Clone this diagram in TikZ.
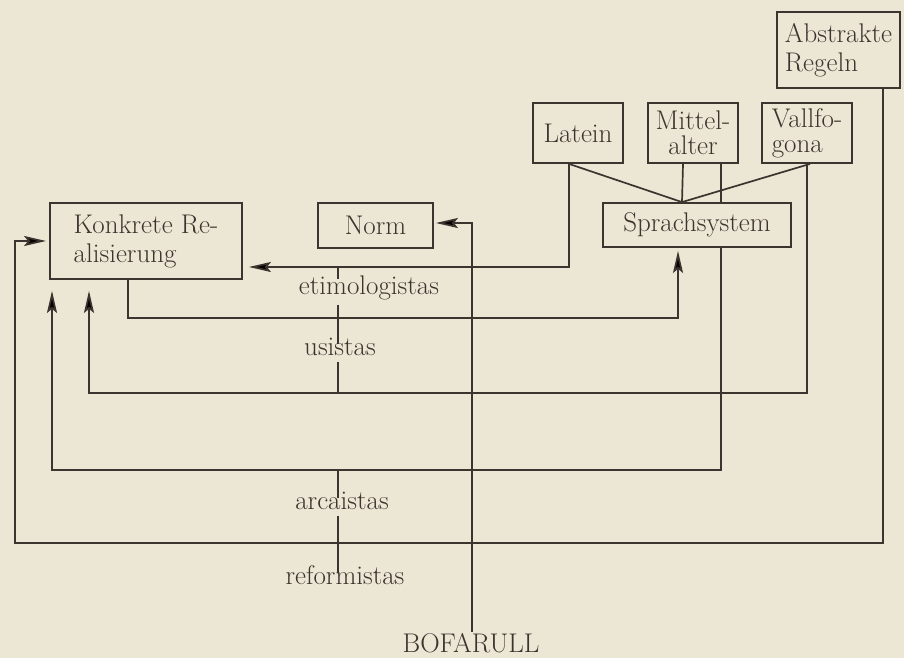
\documentclass[tikz,border=0pt]{standalone}
\usepackage{anyfontsize}
\usepackage{tikz}
\usetikzlibrary{arrows.meta,backgrounds}

\definecolor{paper}{RGB}{236,230,213}
\definecolor{ink}{RGB}{60,52,46}

\begin{document}
\begin{tikzpicture}[x=1pt, y=-1pt, ink, font=\fontsize{27}{29}\selectfont,
	box/.style={draw=ink, line width=1.8pt, fill=paper, inner sep=0pt},
	tight/.style={font=\fontsize{27}{25}\selectfont},
	lbl/.style={inner xsep=2pt, inner ysep=4pt, text height=0.7em, text depth=0.2em},
	line/.style={draw=ink, line width=1.7pt},
	arr/.style={line, -{Stealth[length=22pt, width=10pt, inset=4pt]}}]

	\useasboundingbox (0,0) rectangle (904,658);


	\node[box, minimum width=123pt, minimum height=76pt, align=left] (abstr) at (838.5,50) {Abstrakte\\Regeln};
	\node[box, minimum width=90pt, minimum height=60pt] (latein) at (578,133) {Latein};
	\node[box, tight, minimum width=90pt, minimum height=60pt, align=center] (mittel) at (693,133) {Mittel-\\alter};
	\node[box, tight, minimum width=90pt, minimum height=60pt, align=left] (vallfo) at (807,133) {Vallfo-\\gona};
	\node[box, minimum width=188pt, minimum height=44pt] (sprach) at (697,225) {Sprachsystem};
	\node[box, minimum width=115pt, minimum height=45pt] (norm) at (375.5,225.5) {Norm};
	\node[box, minimum width=192pt, minimum height=76pt, align=left] (konkret) at (146,241) {Konkrete Re-\\alisierung};

	\node[lbl, inner ysep=8pt] (etim) at (369,292) {etimologistas};
	\node[lbl] (usis) at (340,353) {usistas};
	\node[lbl] (arca) at (342,507) {arcaistas};
	\node[lbl] (refo) at (345,582) {reformistas};
	\node[lbl, anchor=base] (bofa) at (471,652) {BOFARULL};


	\coordinate (meet) at ([xshift=-15pt]sprach.north);
	\coordinate (rail) at (15,543);
	\coordinate (usiL) at (89,393);
	\coordinate (arcL) at (52,470);
	\coordinate (s1) at (338,267);
	\coordinate (s2) at (338,393);
	\coordinate (s3) at (338,470);


	\begin{scope}[on background layer]
		\fill[paper] (0,0) rectangle (904,658);

		\foreach \dx/\src in {-9/latein, -10/mittel, 3/vallfo}
			\draw[line] ([xshift=\dx pt]\src.south) -- (meet);

		\draw[arr, shorten >=3pt] ([xshift=-18pt]abstr.south east) |- (rail) |- (konkret.west);
		\draw[arr, shorten >=6pt] ([xshift=-9pt]latein.south) |- ([yshift=-26pt]konkret.east);
		\draw[arr, shorten >=3pt] ([xshift=-18pt]konkret.south) -- ++(0,38) -| ([xshift=-19pt]sprach.south);
		\draw[arr, shorten >=11pt] (vallfo.south) |- (usiL) -- (usiL |- konkret.south);
		\draw[arr, shorten >=11pt] ([xshift=28pt]mittel.south) |- (arcL) -- (arcL |- konkret.south);
		\draw[arr, shorten <=9pt, shorten >=2pt] ([xshift=1pt]bofa.north) |- ([yshift=2.5pt]norm.east);

		\draw[line] (s1) -- (s1 |- etim.north);
		\foreach \up/\dn in {etim/usis, arca/refo}
			\draw[line] (s1 |- \up.south) -- (s1 |- \dn.north);
		\draw[line] (s1 |- usis.south) -- (s2);
		\draw[line] (s3) -- (s3 |- arca.north);
	\end{scope}

\end{tikzpicture}
\end{document}
